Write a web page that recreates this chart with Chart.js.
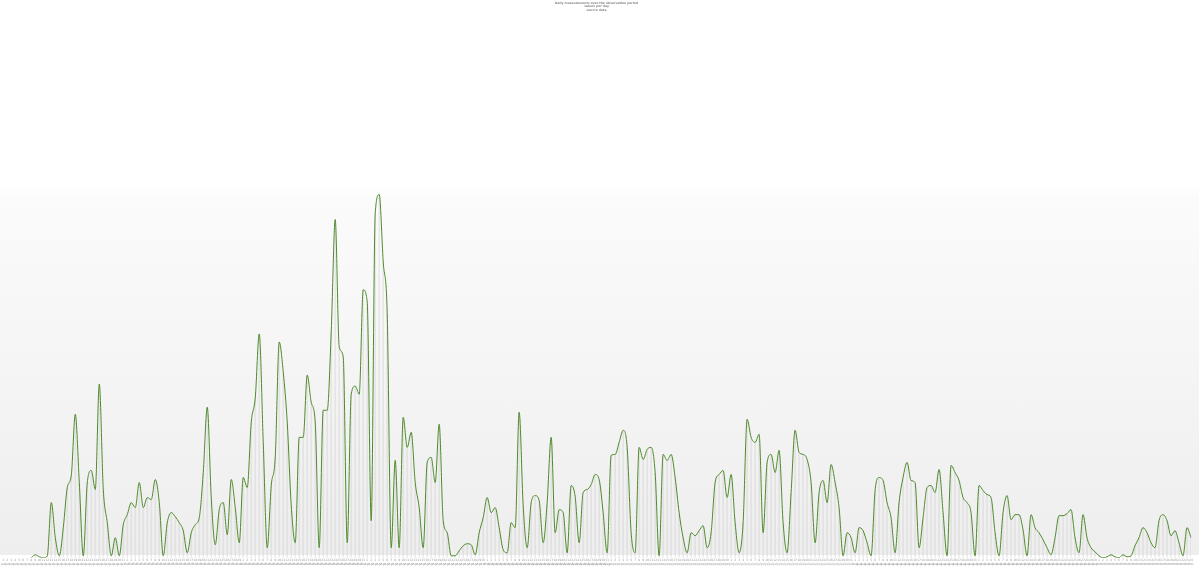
<!DOCTYPE html>
<html>
<head>
<meta charset="utf-8">
<script src="https://cdn.jsdelivr.net/npm/chart.js@4.4.1/dist/chart.umd.min.js"></script>
<style>
  html, body { margin: 0; padding: 0; background: #ffffff; }
  #wrap {
    position: relative; width: 1199px; height: 567px;
    background: linear-gradient(to bottom, #ffffff 0px, #ffffff 185px, #fbfbfb 198px, #eeeeee 555px, #ffffff 555px, #ffffff 567px);
  }
</style>
</head>
<body>
<div id="wrap"><canvas id="c"></canvas></div>
<script>
// ---- data ----
const titleLines = ["Daily measurements over the observation period", "values per day", "source data"];
const startDate = "2012-01-01";
const monthNames = ["Jan","Feb","Mar","Apr","May","Jun","Jul","Aug","Sep","Oct","Nov","Dec"];
const values = [
  null,null,null,null,null,null,null,0,3,1,
  0,2,55,20,2,30,70,82,143,75,
  2,75,87,68,173,68,35,2,20,2,
  33,43,55,50,75,50,60,58,78,55,
  2,35,45,41,35,27,5,25,33,40,
  85,150,60,13,48,55,23,78,50,15,
  80,70,135,159,223,115,10,72,100,215,
  185,135,52,15,120,120,182,155,135,10,
  147,147,225,337,210,200,15,163,171,163,
  267,255,37,343,362,295,243,10,97,10,
  140,110,125,75,50,10,95,100,75,133,
  37,25,2,2,7,12,14,13,3,25,
  40,60,45,50,30,8,5,35,30,145,
  52,10,55,62,57,15,55,120,25,48,
  45,5,72,61,15,65,68,73,83,78,
  45,5,102,103,115,127,110,25,5,110,
  98,108,110,85,2,103,97,103,80,45,
  20,5,25,22,27,32,10,25,75,83,
  87,60,83,35,5,35,138,120,115,123,
  25,95,103,85,107,35,5,65,127,105,
  103,98,75,15,65,77,55,93,75,50,
  2,25,20,5,30,27,15,2,67,80,
  77,55,40,5,55,80,95,77,75,10,
  40,70,72,65,88,45,2,92,85,77,
  60,55,45,2,72,67,63,60,25,2,
  45,62,38,43,43,28,2,43,30,25,
  18,10,3,20,42,42,44,48,20,5,
  43,20,10,6,2,0,1,3,1,0,
  3,1,2,12,20,30,25,15,10,37,
  43,37,22,27,15,2,30,20
];
// category labels: one per day, two rows (day / month)
const categories = values.map((_, i) => {
  const d = new Date(startDate + "T00:00:00");
  d.setDate(d.getDate() + i);
  return [String(d.getDate()), monthNames[d.getMonth()]];
});

new Chart(document.getElementById('c'), {
  data: {
    labels: categories,
    datasets: [
      {
        type: 'line',
        data: values,
        borderColor: '#4e8a2c',
        borderWidth: 1,
        pointRadius: 0,
        cubicInterpolationMode: 'monotone',
        fill: false,
        spanGaps: false,
        order: 0
      },
      {
        type: 'bar',
        data: values,
        backgroundColor: 'rgba(200,200,200,0.35)',
        barThickness: 1,
        order: 1
      }
    ]
  },
  options: {
    responsive: true,
    maintainAspectRatio: false,
    animation: false,
    layout: { padding: { left: 2, right: 8, top: 0, bottom: 0 } },
    plugins: {
      legend: { display: false },
      tooltip: { enabled: false },
      title: {
        display: true,
        text: titleLines,
        color: '#888',
        font: { family: 'DejaVu Sans', size: 3 },
        padding: { top: 1, bottom: 2 }
      }
    },
    scales: {
      x: {
        type: 'category',
        offset: false,
        grid: { display: false, drawTicks: false },
        border: { display: false },
        ticks: {
          autoSkip: false,
          maxRotation: 0,
          minRotation: 0,
          padding: 1,
          color: '#999',
          font: { family: 'DejaVu Sans', size: 3 }
        }
      },
      y: {
        display: false,
        min: 0,
        max: 542
      }
    }
  }
});
</script>
</body>
</html>
